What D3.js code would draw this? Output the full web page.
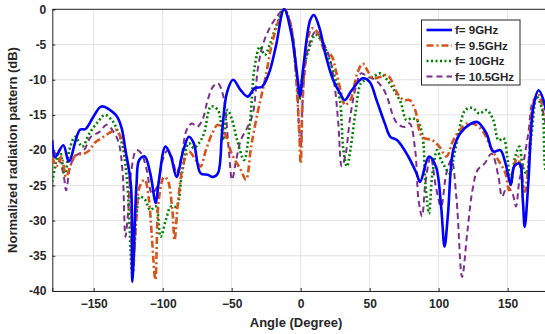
<!DOCTYPE html>
<html><head><meta charset="utf-8">
<script src="https://cdn.jsdelivr.net/npm/d3@7"></script>
<style>body{margin:0;background:#fff;overflow:hidden}svg{display:block}</style>
</head><body><svg id="c" width="545" height="334"></svg>
<script>
const xTicks=[-150,-100,-50,0,50,100,150];
const yTicks=[0,-5,-10,-15,-20,-25,-30,-35,-40];
const seriesNames=["f= 9GHz","f= 9.5GHz","f= 10GHz","f= 10.5GHz"];

const ang9=[-180,-178,-172,-168,-160,-156,-150,-144.4,-134,-130,-127,-123,-122,-119,-117,-113,-109,-105,-103,-98,-94,-90,-85,-81,-77.5,-72.5,-67.4,-63.6,-60,-57,-53.5,-49,-43.4,-38.4,-33.3,-28,-23,-18,-12,-6.8,-1.8,-0.5,2,7,9.6,13.4,18.4,23.5,28.5,32,37,45,50,55,61,65,70,78,84,86.6,93,98,101.8,104.3,106.8,110.6,115.7,122,128,134.6,139.6,144.7,148.5,152.3,154.8,158.6,161,162.4,165,168.7,172.5,176,180];
const db9=[-18.6,-21,-19.3,-21.6,-17.1,-17,-15.2,-13.8,-15,-16.7,-20,-25,-38.7,-25,-21.4,-20.9,-23.3,-27.5,-24.7,-19.5,-20.9,-23.8,-20,-18.1,-19,-23.3,-23.5,-23.8,-23.3,-17.6,-11.9,-10,-11.5,-12.4,-11.2,-11,-9.1,-5.3,0,-3.4,-10.5,-12.4,-8.1,-1.5,-0.8,-2.5,-6.7,-10,-11.9,-12.9,-11.5,-9.8,-10.3,-12.9,-16.2,-18.1,-18.6,-20.9,-23.3,-24.5,-20.9,-22.3,-28,-33.7,-29,-20,-17.6,-16.4,-16,-17.6,-20.2,-20,-21.9,-24.9,-22.3,-21.9,-27,-30.9,-24.7,-13.8,-11.5,-12.9,-17];

const ang95=[-180,-177,-173.5,-170,-167,-163,-157,-153,-149.5,-144.4,-139,-134,-130.6,-127,-124,-121.7,-119,-116.7,-113,-110,-108,-105.3,-102.8,-99,-96.5,-93,-91.4,-89,-85,-81,-76,-72.5,-68.7,-63.6,-60,-55,-50,-43.4,-39.6,-35.9,-30.8,-25.8,-20.7,-15.7,-12,-8,-4.3,-1,0,1.5,4.5,8.3,12,18.4,22,26,30,32,36,41,45,49,52.5,57.6,62.6,66.4,70,75,79,83,88,95.5,100.5,105.6,110.6,115.7,120.7,127,133,138,144.7,148.5,151,153.5,157.3,160,162.4,165,168.7,172.5,176,180];
const db95=[-21,-22.3,-20.9,-23.8,-22.3,-20.7,-20.5,-20,-19,-18.3,-17.6,-17.1,-18.1,-20,-24.2,-37.5,-29.4,-25.2,-24.2,-27,-31.8,-38.4,-27,-23.8,-24.2,-28.5,-32.8,-27.6,-21.9,-20.2,-21.4,-22.3,-20,-17.4,-16.4,-17.6,-20.5,-22.8,-24.2,-19.5,-14.3,-10,-4.8,-1.5,0,-1.5,-7.2,-17.6,-21.9,-12.9,-4.8,-2.7,-3.2,-6.3,-6.5,-9.1,-12.4,-13.6,-12.9,-9.1,-7.7,-8.9,-9.8,-9.6,-9.3,-10.3,-11.9,-12.9,-12.9,-14.3,-18.1,-18.6,-19.5,-20.9,-18.6,-17.1,-16.2,-16.4,-17.6,-19.7,-21.9,-23.3,-25.7,-23.3,-20.9,-23.3,-25.9,-22.3,-13.3,-12.2,-13.8,-17];

const ang10=[-180,-177,-174.7,-171,-167,-163.4,-158.3,-153,-147,-142,-137,-133,-129,-125.5,-122,-119,-116.7,-113,-109,-105,-101.5,-97.7,-94,-90,-86,-81,-77.5,-73.7,-70,-65,-60,-56,-53,-49.7,-46,-41,-37,-33.3,-29.5,-26,-22,-17,-12,-6.8,-2.5,-1,1.5,5.8,10.8,16,21,24.7,28.5,31,33.6,36,40,43.7,47.5,52.5,57.6,62.6,67.7,72.7,76.5,80.3,84,88,90.4,93,95.5,99,101.8,104.3,108,110.6,114.4,119.4,124.5,129.5,134.6,139.6,143.4,147,149.7,152.3,155.5,158.6,161,163.6,167.4,171,175,177.5,180];
const db10=[-24.5,-21.4,-20,-23.3,-19.5,-18.1,-19.5,-17.6,-16,-15,-15.7,-17.1,-19.5,-25.2,-37.5,-29.4,-26.6,-27,-28.5,-28,-32.3,-29.9,-28,-28,-23.3,-19,-19.7,-19,-17.6,-13.8,-14.3,-18.6,-14.3,-15.7,-18.6,-21.4,-16.7,-8.1,-5.3,-6.5,-4.8,-2,0,-2.9,-10.5,-12.9,-9.1,-5.8,-3.6,-4.8,-7.2,-9.6,-12.9,-20,-22.3,-20,-14.3,-10.5,-10,-9.6,-9.1,-10,-11.5,-13.3,-15.7,-15.5,-15.7,-17.6,-24.7,-29,-23.3,-20,-21.4,-22.3,-23.3,-21.4,-17.6,-14.3,-14,-14.8,-14.3,-15.7,-18.6,-18.3,-20.9,-24.9,-20.9,-19.5,-22.3,-23.3,-17.6,-12.4,-14.3,-22.8,-24];

const ang105=[-180,-176,-172,-170,-167,-163.4,-157,-152,-145.7,-140.6,-135.6,-131.8,-129,-127,-125.5,-123,-119,-115.4,-111.6,-107.8,-104,-100,-96.5,-92.7,-90,-86.4,-82.6,-78.8,-75,-71.2,-67.4,-63.6,-60,-56,-52.3,-49.7,-47.2,-43.4,-38.4,-34.6,-30.8,-27,-22,-17,-12,-6.8,-3,-1,0,2,5.8,10.8,16,21,24.7,27.3,29.8,32.3,36,40,43.7,48.7,53.8,58.8,62.6,66.4,70,75,79,83,85.4,88,90.4,94.2,98,101.8,105.6,109.3,113,117,120.7,124.5,128.3,133.3,138.4,143.4,146,149.7,153.5,156,158.6,161,165,168.7,172.5,176,180];
const db105=[-20,-20.9,-23.3,-25.7,-22.3,-20.9,-20,-18.1,-17.4,-16.4,-17.4,-19,-23.3,-32.3,-29.9,-23.3,-20,-20.5,-22.8,-26.1,-25.2,-21.4,-20,-21.4,-23.3,-20.9,-17.1,-16.2,-16.7,-15.7,-12.9,-11,-10.5,-12.4,-19.5,-24.2,-21.9,-18.6,-16.7,-14.8,-8.1,-4.8,-2.5,-1,0,-2.5,-9.1,-17.6,-19.5,-11,-5.3,-3.2,-4.6,-6.9,-11,-16.2,-22.3,-20.9,-15.2,-11,-9.1,-9.6,-10,-11,-12.4,-14.8,-16.2,-16.7,-16.2,-20,-27,-29.4,-24.7,-20.9,-25.2,-28,-23.3,-21.4,-27,-38,-31.8,-25.7,-22.8,-21.9,-20.5,-23.8,-26.6,-25.2,-26.1,-28,-24.2,-22.3,-17.6,-12.9,-12.4,-14.8,-19];

const svg=d3.select("#c");
const L=52.3,R=549,T=9.3,B=291;
const x=d3.scaleLinear().domain([-180,180]).range([L,R]);
const y=d3.scaleLinear().domain([-40,0]).range([B,T]);
const font="'Liberation Sans', Arial, sans-serif";

// grid
svg.append("g").selectAll("line").data(xTicks).join("line")
  .attr("x1",d=>x(d)).attr("x2",d=>x(d)).attr("y1",T).attr("y2",B)
  .attr("stroke","#e3e3e3").attr("stroke-width",1);
svg.append("g").selectAll("line").data(yTicks).join("line")
  .attr("x1",L).attr("x2",R).attr("y1",d=>y(d)).attr("y2",d=>y(d))
  .attr("stroke","#e3e3e3").attr("stroke-width",1);

// axes
const xAxis=d3.axisBottom(x).tickValues(xTicks).tickSize(-3).tickPadding(8).tickFormat(d3.format("d"));
const yAxis=d3.axisLeft(y).tickValues(yTicks).tickSize(-3).tickPadding(6).tickFormat(d=>d===0?"0":String(d));
const gx=svg.append("g").attr("transform",`translate(0,${B})`).call(xAxis);
const gy=svg.append("g").attr("transform",`translate(${L},0)`).call(yAxis);
[gx,gy].forEach(g=>{
  g.select(".domain").attr("stroke","#262626");
  g.selectAll(".tick line").attr("stroke","#262626");
  g.selectAll("text").attr("font-family",font).attr("font-weight","bold").attr("font-size","12px").attr("fill","#262626");
});
svg.append("line").attr("x1",L).attr("x2",R).attr("y1",T).attr("y2",T).attr("stroke","#262626").attr("stroke-width",1);

// clip
svg.append("clipPath").attr("id","clip").append("rect").attr("x",L).attr("y",T-3).attr("width",R-L).attr("height",B-T+3);

const series=[
 {a:ang9,v:db9,color:"#0000ff",w:2.6,dash:null},
 {a:ang95,v:db95,color:"#d95319",w:2.6,dash:"7,3,2,3"},
 {a:ang10,v:db10,color:"#008000",w:2.6,dash:"2,2.5"},
 {a:ang105,v:db105,color:"#7e2f8e",w:2,dash:"6,4"}
];
const line=d3.line().x(d=>x(d[0])).y(d=>y(d[1])).curve(d3.curveCatmullRom.alpha(0.5));
const gl=svg.append("g").attr("clip-path","url(#clip)");
[3,2,1,0].forEach(i=>{
  const s=series[i];
  gl.append("path").datum(d3.zip(s.a,s.v)).attr("d",line)
    .attr("fill","none").attr("stroke",s.color).attr("stroke-width",s.w)
    .attr("stroke-dasharray",s.dash).attr("stroke-linejoin","round");
});

// labels
svg.append("text").attr("x",296).attr("y",327).attr("text-anchor","middle")
  .attr("font-family",font).attr("font-weight","bold").attr("font-size","13px").attr("fill","#262626").text("Angle (Degree)");
svg.append("text").attr("transform","translate(17,150) rotate(-90)").attr("text-anchor","middle")
  .attr("font-family",font).attr("font-weight","bold").attr("font-size","13px").attr("fill","#262626").text("Normalized radiation pattern (dB)");

// legend
const lg=svg.append("g");
lg.append("rect").attr("x",421.5).attr("y",20).attr("width",98.5).attr("height",65)
  .attr("fill","#fff").attr("stroke","#262626").attr("stroke-width",1);
seriesNames.forEach((n,i)=>{
  const yy=30+i*15.5;
  const s=series[i];
  lg.append("line").attr("x1",426.5).attr("x2",452).attr("y1",yy).attr("y2",yy)
    .attr("stroke",s.color).attr("stroke-width",s.w).attr("stroke-dasharray",s.dash);
  lg.append("text").attr("x",455).attr("y",yy+4).attr("font-family",font).attr("font-weight","bold")
    .attr("font-size","11.5px").attr("fill","#262626").text(n);
});
</script></body></html>
